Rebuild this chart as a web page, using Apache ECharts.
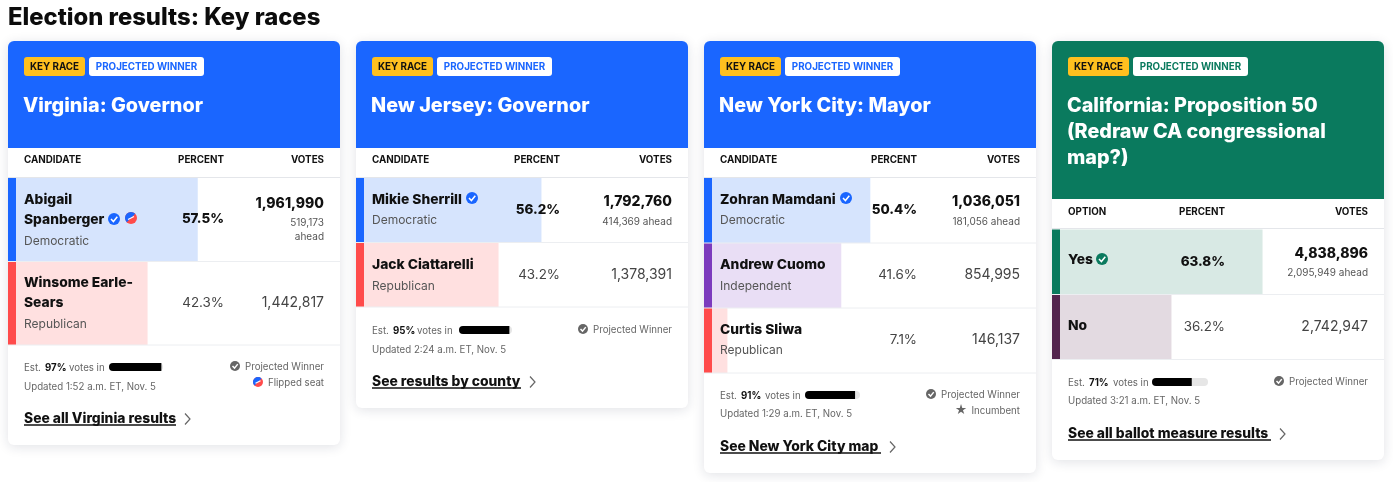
<!DOCTYPE html>
<html><head><meta charset="utf-8">
<style>html,body{margin:0;padding:0;background:#fff}#c{width:1393px;height:482px}</style>
<script src="https://cdn.jsdelivr.net/npm/echarts@6/dist/echarts.min.js"></script>
</head><body><div id="c"></div>
<script>
// ---- data ----
const pageTitle = 'Election results: Key races';
const raceTitles = [['Virginia: Governor'],['New Jersey: Governor'],['New York City: Mayor'],['California: Proposition 50','(Redraw CA congressional','map?)']];
const colHeads = ['CANDIDATE','CANDIDATE','CANDIDATE','OPTION'];
const names = [[['Abigail','Spanberger'],['Winsome Earle-','Sears']],[['Mikie Sherrill'],['Jack Ciattarelli']],[['Zohran Mamdani'],['Andrew Cuomo'],['Curtis Sliwa']],[['Yes'],['No']]];
const parties = [['Democratic','Republican'],['Democratic','Republican'],['Democratic','Independent','Republican'],['','']];
const percents = [[57.5,42.3],[56.2,43.2],[50.4,41.6,7.1],[63.8,36.2]];
const votes = [['1,961,990','1,442,817'],['1,792,760','1,378,391'],['1,036,051','854,995','146,137'],['4,838,896','2,742,947']];
const ahead = [['519,173','ahead'],['414,369 ahead'],['181,056 ahead'],['2,095,949 ahead']];
const reported = [97,95,91,71];
const updated = ['Updated 1:52 a.m. ET, Nov. 5','Updated 2:24 a.m. ET, Nov. 5','Updated 1:29 a.m. ET, Nov. 5','Updated 3:21 a.m. ET, Nov. 5'];
const linkTexts = ['See all Virginia results','See results by county','See New York City map','See all ballot measure results'];

// ---- layout and style ----
const F = 'Inter, "Liberation Sans", sans-serif';
const BLUE='#1a66ff', RED='#ff4b4b', PURPLE='#7c3bbd', GREEN='#0a7a5e', PLUM='#52244e';
const SOFT={[BLUE]:'#d6e4fd',[RED]:'#ffe0e0',[PURPLE]:'#e9def5',[GREEN]:'#d8e9e4',[PLUM]:'#e3dae1'};
const cards=[
 {x:8,  bottom:445,head:148,hc:BLUE, titleY:[105],hdrY:159,lineY:177,rowT:178,rowH:83.5,strip:[BLUE,RED],
  nameY:[[199,219],[282,302]],partyY:[240,323],pctY:[218,302],voteY:[203,302],aheadY:[222,236],
  estY:367,updY:386,barX:109,barW:54,right:[{t:'Projected Winner',y:366,k:'check',ix:235},{t:'Flipped seat',y:382,k:'flip',ix:258}],linkY:418,linkEnd:176,chev:188,icons:[[114,219,'blue'],[131,218,'flip']],pctR:224},
 {x:356,bottom:408,head:148,hc:BLUE, titleY:[105],hdrY:159,lineY:177,rowT:178,rowH:64.5,strip:[BLUE,RED],
  nameY:[[199],[264]],partyY:[219,285],pctY:[209,274],voteY:[201,274],aheadY:[221],
  estY:330,updY:349,barX:459,barW:53,right:[{t:'Projected Winner',y:329,k:'check',ix:583}],linkY:381,linkEnd:521,chev:533,icons:[[472,198,'blue']],pctR:560},
 {x:704,bottom:473,head:148,hc:BLUE, titleY:[105],hdrY:159,lineY:177,rowT:178,rowH:65,strip:[BLUE,PURPLE,RED],
  nameY:[[199],[264],[329]],partyY:[219,285,349],pctY:[209,274,339],voteY:[201,274,339],aheadY:[221],
  estY:395,updY:413,barX:805,barW:55,right:[{t:'Projected Winner',y:394,k:'check',ix:931},{t:'Incumbent',y:410,k:'star',ix:961}],linkY:446,linkEnd:881,chev:893,icons:[[846,198,'blue']],pctR:917},
 {x:1052,bottom:460,head:199,hc:GREEN,titleY:[105,131,157],hdrY:211,lineY:228,rowT:229.5,rowH:65,strip:[GREEN,PLUM],
  nameY:[[259],[325]],partyY:[null,null],pctY:[261,326],voteY:[253,326],aheadY:[272],
  estY:382,updY:400,barX:1152,barW:56,right:[{t:'Projected Winner',y:381,k:'check',ix:1279}],linkY:433,linkEnd:1271,chev:1283,icons:[[1102,259,'green']],pctR:1225}
];
const W=332, BAR_W=330, Z_TXT=10;
const g=[], grids=[], xAxes=[], yAxes=[], series=[];
function T(x,y,text,size,weight,color,align){g.push({type:'text',x,y:y+1,z:Z_TXT,style:{text,font:`${weight} ${size}px ${F}`,fill:color,align:align||'left',verticalAlign:'middle'}});}
function R(x,y,w,h,fill,r,z,extra){g.push({type:'rect',z:z||1,shape:{x,y,width:w,height:h,r:r||0},style:Object.assign({fill},extra||{})});}
function L(x1,y1,x2,y2,c,w){g.push({type:'line',z:Z_TXT-1,shape:{x1,y1,x2,y2},style:{stroke:c,lineWidth:w||1}});}
function check(cx,cy,r,c){
  g.push({type:'circle',z:Z_TXT,shape:{cx,cy,r},style:{fill:c}});
  g.push({type:'polyline',z:Z_TXT+1,shape:{points:[[cx-r*.5,cy],[cx-r*.1,cy+r*.42],[cx+r*.55,cy-r*.38]]},style:{stroke:'#fff',lineWidth:1.5,fill:null}});
}
function flip(cx,cy,r){
  g.push({type:'circle',z:Z_TXT,shape:{cx,cy,r},style:{fill:RED}});
  g.push({type:'sector',z:Z_TXT,shape:{cx,cy,r,r0:0,startAngle:Math.PI*.75,endAngle:Math.PI*1.75},style:{fill:BLUE}});
  g.push({type:'line',z:Z_TXT+1,shape:{x1:cx-r*.5,y1:cy+r*.25,x2:cx+r*.5,y2:cy-r*.25},style:{stroke:'#fff',lineWidth:1.2}});
}
T(8,17,pageTitle,23.8,800,'#0c0c0c');
function addBarGrid(left,top,width,height,vals,colors,extra){
  const i=grids.length;
  grids.push({left,top,width,height,containLabel:false});
  xAxes.push({gridIndex:i,type:'value',min:0,max:100,show:false});
  yAxes.push({gridIndex:i,type:'category',inverse:true,show:false,data:vals.map((_,k)=>String(k))});
  series.push(Object.assign({type:'bar',xAxisIndex:i,yAxisIndex:i,barWidth:'100%',silent:true,z:3,animation:false,
    data:vals.map((v,k)=>({value:v,itemStyle:{color:colors[k]}}))},extra||{}));
}
cards.forEach((c,i)=>{
  const x=c.x, rp=x+W-16, top=41, nRows=percents[i].length;
  R(x,top,W,c.bottom-top,'#fff',6,0,{shadowBlur:12,shadowColor:'rgba(20,30,60,.13)',shadowOffsetY:2});
  R(x,top,W,c.head-top,c.hc,[6,6,0,0],1);
  R(x+16,57,61,19,'#ffc01f',3,2); T(x+46.5,66,'KEY RACE',9.8,700,'#111','center');
  R(x+81,57,115,19,'#fff',3,2);   T(x+138.5,66,'PROJECTED WINNER',9.8,700,c.hc,'center');
  raceTitles[i].forEach((s,k)=>T(x+15,c.titleY[k],s,19.8,800,'#fff'));
  T(x+16,c.hdrY,colHeads[i],9.8,700,'#111');
  T(c.pctR,c.hdrY,'PERCENT',9.8,700,'#111','right');
  T(rp,c.hdrY,'VOTES',9.8,700,'#111','right');
  L(x,c.lineY+.5,x+W,c.lineY+.5,'#e4e6ea');
  addBarGrid(x,c.rowT,BAR_W,c.rowH*nRows,percents[i],c.strip.map(s=>SOFT[s]));
  c.strip.forEach((s,k)=>{
    R(x,c.rowT+k*c.rowH,8,c.rowH,s,0,5);
    L(x,c.rowT+(k+1)*c.rowH,x+W,c.rowT+(k+1)*c.rowH,'#eceef1');
    names[i][k].forEach((n,m)=>T(x+16,c.nameY[k][m],n,13.8,800,'#111'));
    if(parties[i][k]) T(x+16,c.partyY[k],parties[i][k],12,400,'#555');
    const lead=k===0;
    T(c.pctR,c.pctY[k],percents[i][k].toFixed(1)+'%',13.4,lead?800:400,lead?'#111':'#444','right');
    T(rp,c.voteY[k],votes[i][k],14,lead?800:400,lead?'#111':'#444','right');
  });
  ahead[i].forEach((s,k)=>T(rp,c.aheadY[k],s,10,400,'#555','right'));
  c.icons.forEach(([ix,iy,kind])=>{
    if(kind==='flip') flip(ix,iy,6);
    else check(ix,iy,6,kind==='blue'?BLUE:GREEN);
  });
  T(x+16,c.estY,'Est.',9.7,400,'#666');
  T(x+37,c.estY,reported[i]+'%',9.7,700,'#111');
  T(x+61,c.estY,'votes in',9.7,400,'#666');
  T(x+16,c.updY,updated[i],9.7,400,'#666');
  addBarGrid(c.barX,c.estY-4,c.barW,8,[reported[i]],['#000'],{showBackground:true,backgroundStyle:{color:'#e6e6e6',borderRadius:4}});
  series[series.length-1].data[0].itemStyle.borderRadius=[4,0,0,4];
  c.right.forEach(r=>{
    T(rp,r.y,r.t,9.7,400,'#666','right');
    if(r.k==='check') check(r.ix,r.y,5,'#666');
    if(r.k==='flip') flip(r.ix,r.y,5);
    if(r.k==='star') T(r.ix,r.y-1,'★',12,400,'#666','center');
  });
  T(x+16,c.linkY,linkTexts[i],13.85,800,'#111');
  L(x+16,c.linkY+7,c.linkEnd,c.linkY+7,'#111',1.5);
  g.push({type:'polyline',z:Z_TXT,shape:{points:[[c.chev-3,c.linkY-4.5],[c.chev+2,c.linkY+1],[c.chev-3,c.linkY+6.5]]},style:{stroke:'#666',lineWidth:1.2,fill:null}});
});
const chart=echarts.init(document.getElementById('c'),null,{renderer:'canvas',width:1393,height:482});
chart.setOption({animation:false,backgroundColor:'#fff',tooltip:{show:false},grid:grids,xAxis:xAxes,yAxis:yAxes,series,graphic:{elements:g}});
</script></body></html>
